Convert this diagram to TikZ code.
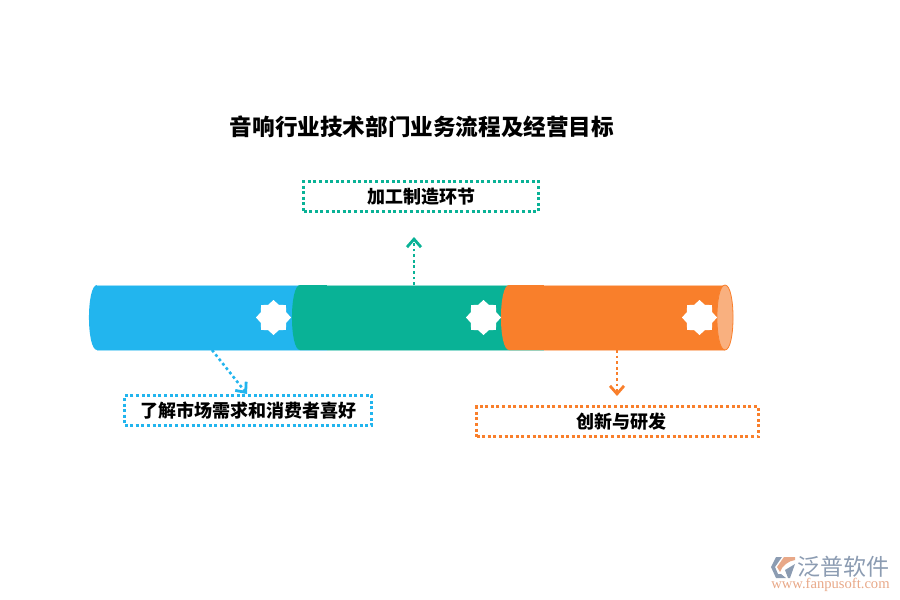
\documentclass[tikz,border=0pt]{standalone}
\usepackage{fontspec}
\setmainfont{Noto Sans CJK SC}
\newfontfamily\logofont{Liberation Serif}
\usetikzlibrary{arrows.meta,shapes.geometric}
\definecolor{pipeblue}{HTML}{22B5EE}
\definecolor{pipegreen}{HTML}{09B296}
\definecolor{pipeorange}{HTML}{F97F2B}
\definecolor{pipeend}{HTML}{F9B07F}
\definecolor{logogrey}{HTML}{8C9CB2}
\definecolor{logotan}{HTML}{E8A888}
\newcommand{\boxlabel}[1]{\raisebox{-1pt}{\textcolor{black}{#1}}}
\tikzset{
	labelbox/.style = {draw, line width=2.6pt, dash pattern=on 3pt off 2.6pt, inner sep=0pt, font=\bfseries\fontsize{18}{18}\selectfont, text=black},
	notch/.style = {star, star points=8, star point ratio=1.27, minimum size=35pt, inner sep=0pt, fill=white},
	flow/.style = {line width=2.6pt, dash pattern=on 2.8pt off 2.8pt, -{Straight Barb[length=8pt,width=14pt,line width=2.8pt]}}
}
\begin{document}
\begin{tikzpicture}[x=1pt, y=-1pt]
	\useasboundingbox (0, 0) rectangle (900, 600);

	\node[font=\bfseries\fontsize{22.6}{22.6}\selectfont, text=black] (title) at (422, 127) {音响行业技术部门业务流程及经营目标};

	% pipe
	\fill[pipeblue] (97, 285) .. controls (86.3, 285) and (86.3, 350) .. (97, 350) -- (327, 350) -- (327, 285) -- cycle;
	\draw[pipeblue!45!white, line width=0.8pt] (97, 285) -- (327, 285) (97, 350) -- (327, 350);
	\fill[pipegreen] (300, 285) .. controls (289.3, 285) and (289.3, 350) .. (300, 350) -- (544, 350) -- (544, 285) -- cycle;
	\draw[pipegreen!45!white, line width=0.8pt] (327, 285) -- (544, 285) (327, 350) -- (544, 350);
	\fill[pipeorange] (509, 285) .. controls (498.3, 285) and (498.3, 350) .. (509, 350) -- (725, 350) -- (725, 285) -- cycle;
	\draw[pipeorange!45!white, line width=0.8pt] (544, 285) -- (725, 285) (544, 350) -- (725, 350);
	\draw[pipeorange, fill=pipeend, line width=0.8pt] (725, 285) .. controls (714.3, 285) and (714.3, 350) .. (725, 350) .. controls (735.7, 350) and (735.7, 285) .. (725, 285) -- cycle;

	\node[notch] (notch1) at (273.5, 317.5) {};
	\node[notch] (notch2) at (483.5, 317.5) {};
	\node[notch] (notch3) at (699.5, 317.5) {};

	\node[labelbox, color=pipegreen, minimum width=235pt, minimum height=30pt] (greenbox) at (421, 196.5) {\boxlabel{加工制造环节}};
	\node[labelbox, color=pipeblue, minimum width=247pt, minimum height=30pt] (bluebox) at (248, 410.5) {\boxlabel{了解市场需求和消费者喜好}};
	\node[labelbox, color=pipeorange, minimum width=282pt, minimum height=30pt] (orangebox) at (617.5, 421.5) {\hspace{8pt}\boxlabel{创新与研发}};

	\coordinate (bluestart) at (212, 350);
	\coordinate (blueend) at (247, 394);
	\coordinate (greenstart) at (414, 285);
	\coordinate (greenend) at (414, 237);
	\coordinate (orangestart) at (617, 350);
	\coordinate (orangeend) at (617, 396);

	\draw[flow, pipeblue] (bluestart) to (blueend);
	\draw[flow, pipegreen] (greenstart) to (greenend);
	\draw[flow, pipeorange] (orangestart) to (orangeend);

	% logo
	\fill[logogrey] (782, 557) -- (776, 557) -- (771, 567) -- (776, 578) -- (786, 578) -- (781, 574) -- (778, 574) -- (775, 567) -- cycle;
	\fill[logotan] (784, 557) -- (795, 557) -- (795, 560) .. controls (788, 561) and (782, 566) .. (780, 572) -- (777, 567) -- cycle;
	\fill[logogrey] (785, 570) -- (795, 564) -- (790, 578) -- (788, 578) -- cycle;
	\node[text=logogrey, font=\fontsize{23}{23}\selectfont, inner sep=0pt] (logotext) at (843, 567) {泛普软件};
	\node[text=logotan, font=\logofont\fontsize{14.6}{14.6}\selectfont, inner sep=0pt] (logourl) at (830.5, 585) {www.fanpusoft.com};
\end{tikzpicture}
\end{document}
